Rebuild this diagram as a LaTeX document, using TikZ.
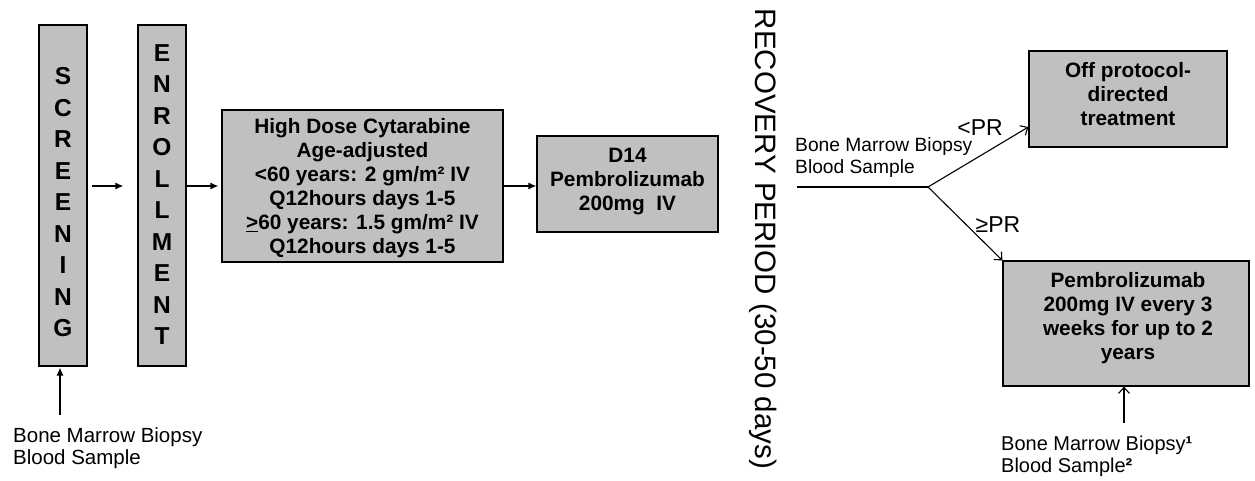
\documentclass[tikz,border=0pt]{standalone}
\usepackage{fontspec}
\setmainfont{Liberation Sans}
\usetikzlibrary{arrows.meta}
\definecolor{boxgray}{RGB}{192,192,192}
\begin{document}
\begin{tikzpicture}[x=1pt,y=-1pt,
  box/.style={draw=black, fill=boxgray, line width=1.2pt, inner sep=0pt},
  boxtext/.style={inner sep=0pt, align=center, font=\bfseries\fontsize{20.8}{24}\selectfont},
  lettertext/.style={inner sep=0pt, align=center, font=\bfseries\fontsize{24.5}{31.5}\selectfont},
  note/.style={inner sep=0pt, align=left, anchor=west, font=\fontsize{20.5}{22}\selectfont},
  farrow/.style={line width=1.2pt, -{Latex[length=8pt,width=7pt]}},
  oarrow/.style={line width=1.1pt, -{Straight Barb[length=6pt,width=11pt]}},
  plainline/.style={line width=1.1pt}]
\useasboundingbox (0,0) rectangle (1255,480);

% boxes
\node[box, minimum width=48pt, minimum height=341pt] (scr) at (63,195.5) {};
\node[lettertext] (scrt) at (63,202.5) {S\\C\\R\\E\\E\\N\\I\\N\\G};
\node[box, minimum width=48pt, minimum height=341pt] (enr) at (162,195.5) {};
\node[lettertext] (enrt) at (162,194.5) {E\\N\\R\\O\\L\\L\\M\\E\\N\\T};
\node[box, minimum width=281pt, minimum height=152pt] (hd) at (362.5,186) {};
\node[boxtext] (hdt) at (362.5,188) {High Dose Cytarabine\\Age-adjusted\\<60 years: 2 gm/m² IV\\Q12hours days 1-5\\\underline{>}60 years: 1.5 gm/m² IV\\Q12hours days 1-5};
\node[box, minimum width=181pt, minimum height=96pt] (d14) at (627.5,184) {};
\node[boxtext] (d14t) at (627.5,182) {D14\\Pembrolizumab\\200mg\ \ IV};
\node[box, minimum width=198pt, minimum height=96pt] (off) at (1128,99) {};
\node[boxtext] (offt) at (1128,94) {Off protocol-\\directed\\treatment};
\node[box, minimum width=246pt, minimum height=125pt] (pem) at (1126,323.5) {};
\node[boxtext] (pemt) at (1128,318) {Pembrolizumab\\200mg IV every 3\\weeks for up to 2\\years};

% recovery label
\node[inner sep=0pt, rotate=-90, font=\fontsize{29.5}{30}\selectfont] (rec) at (763,239) {RECOVERY PERIOD (30-50 days)};

% main flow arrows
\draw[farrow, shorten <=4pt, shorten >=14pt] ([yshift=9.5pt]scr.east) -- ([yshift=9.5pt]enr.west);
\draw[farrow, shorten >=3pt] ([yshift=9.5pt]enr.east) -- (hd.west);
\draw[farrow] (hd.east) -- (hd.east -| d14.west);

% screening samples
\node[note] (bm1) at (13,448) {Bone Marrow Biopsy\\Blood Sample};
\coordinate (bm1a) at (60,415);
\draw[farrow, shorten >=1pt] (bm1a) -- (bm1a |- scr.south);

% branch
\node[note, font=\fontsize{19.2}{22}\selectfont] (bm2) at (795,158) {Bone Marrow Biopsy\\Blood Sample};
\coordinate (rs) at (797,187);
\coordinate (split) at (928,187);
\draw[plainline] (rs) -- (split);
\draw[oarrow] (split) -- ([yshift=-28pt]off.west);
\draw[oarrow] (split) -- (pem.north west);
\node[inner sep=0pt, font=\fontsize{23}{24}\selectfont] (lpr) at (980,128) {<PR};
\node[inner sep=0pt, font=\fontsize{23}{24}\selectfont] (gpr) at (998,225) {≥PR};

% follow-up samples
\node[note, font=\fontsize{20}{22}\selectfont] (bm3) at (1001,456) {Bone Marrow Biopsy\textbf{¹}\\Blood Sample\textbf{²}};
\coordinate (bm3a) at (1124,423);
\draw[oarrow] (bm3a) -- (bm3a |- pem.south);
\end{tikzpicture}
\end{document}
